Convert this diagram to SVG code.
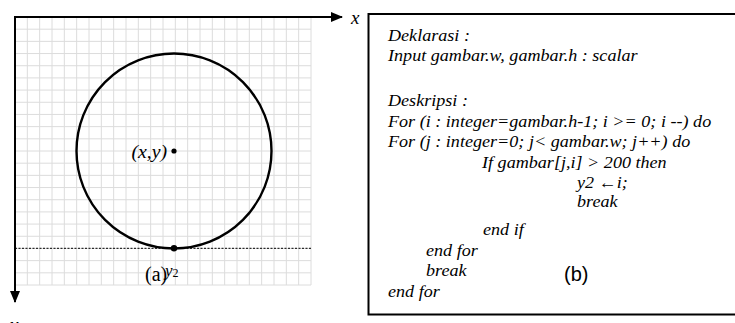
<svg xmlns="http://www.w3.org/2000/svg" width="735" height="323" viewBox="0 0 735 323">
<style>
.grid{stroke:#dcdcdc;stroke-width:1;fill:none}
.axis{stroke:#000;stroke-width:2;fill:none}
.code{font-family:'Liberation Serif','Times New Roman',serif;font-style:italic;font-size:17.5px;fill:#000}
.lbl{font-family:'Liberation Serif','Times New Roman',serif;fill:#000}
.it{font-style:italic}
</style>
<defs>
<marker id="arr" viewBox="0 0 12 10" refX="11" refY="5" markerWidth="12" markerHeight="10" markerUnits="userSpaceOnUse" orient="auto">
<path d="M0,0 L12,5 L0,10 Z" fill="#000"/>
</marker>
</defs>
<rect width="735" height="323" fill="#fff"/>
<g id="plot">
<path class="grid" d="M27.33 17V285M39.67 17V285M52 17V285M64.33 17V285M76.67 17V285M89 17V285M101.33 17V285M113.67 17V285M126 17V285M138.33 17V285M150.67 17V285M163 17V285M175.33 17V285M187.67 17V285M200 17V285M212.33 17V285M224.67 17V285M237 17V285M249.33 17V285M261.67 17V285M274 17V285M286.33 17V285M298.67 17V285M311 17V285M15 29.18H311M15 41.36H311M15 53.55H311M15 65.73H311M15 77.91H311M15 90.09H311M15 102.27H311M15 114.45H311M15 126.64H311M15 138.82H311M15 151H311M15 163.18H311M15 175.36H311M15 187.55H311M15 199.73H311M15 211.91H311M15 224.09H311M15 236.27H311M15 248.45H311M15 260.64H311M15 272.82H311M15 285H311"/>
<line x1="15" y1="248.3" x2="311" y2="248.3" stroke="#000" stroke-width="1" stroke-dasharray="2,1.5"/>
<circle cx="174" cy="151" r="97.5" fill="none" stroke="#000" stroke-width="2.4"/>
<circle cx="174" cy="151" r="2.6" fill="#000"/>
<circle cx="174" cy="248.3" r="3.2" fill="#000"/>
<text class="lbl it" transform="translate(131.5 157.5) scale(1.1 1)" font-size="18">(x,y)</text>
<text class="lbl" x="145" y="281" font-size="20">(a)</text>
<text class="lbl" x="165" y="276" font-size="17"><tspan class="it">y</tspan><tspan font-size="12" dy="1">2</tspan></text>
</g>
<g id="connectors">
<line class="axis" x1="14" y1="17" x2="342" y2="17" marker-end="url(#arr)"/>
<line class="axis" x1="15" y1="16" x2="15" y2="302" marker-end="url(#arr)"/>
</g>
<text class="lbl it" x="351" y="24" font-size="19">x</text>
<text class="lbl it" x="10" y="331" font-size="19">y</text>
<g id="code-box">
<rect x="368.5" y="14" width="380" height="300.5" fill="none" stroke="#000" stroke-width="2"/>
<text class="code" transform="translate(388 41) scale(1.035 1)">Deklarasi :</text>
<text class="code" transform="translate(388 61) scale(1.035 1)">Input gambar.w, gambar.h : scalar</text>
<text class="code" transform="translate(388 106) scale(1.035 1)">Deskripsi :</text>
<text class="code" transform="translate(388 127) scale(1.035 1)">For (i : integer=gambar.h-1; i &gt;= 0; i --) do</text>
<text class="code" transform="translate(388 147) scale(1.035 1)">For (j : integer=0; j&lt; gambar.w; j++) do</text>
<text class="code" transform="translate(482 168) scale(1.035 1)">If gambar[j,i] &gt; 200 then</text>
<text class="code" transform="translate(577 188) scale(1.035 1)">y2 ←i;</text>
<text class="code" transform="translate(577 207) scale(1.035 1)">break</text>
<text class="code" transform="translate(483 235) scale(1.035 1)">end if</text>
<text class="code" transform="translate(426 256) scale(1.035 1)">end for</text>
<text class="code" transform="translate(426 276) scale(1.035 1)">break</text>
<text class="code" transform="translate(388 297) scale(1.035 1)">end for</text>
<text x="564" y="281" font-family="'Liberation Sans',Arial,sans-serif" font-size="20" fill="#000">(b)</text>
</g>
</svg>
